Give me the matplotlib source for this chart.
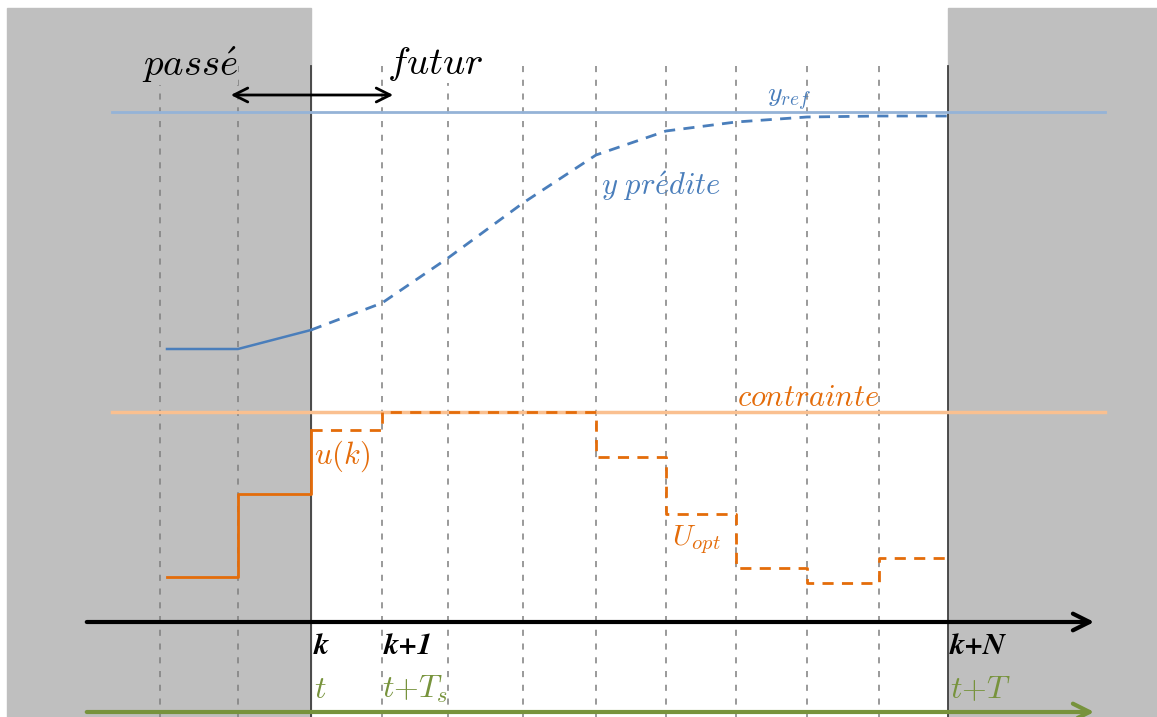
import matplotlib.pyplot as plt
from matplotlib.patches import Rectangle

plt.rcParams['mathtext.fontset'] = 'cm'

# time grid (pixel positions of the sampling instants k-2 ... k+N)
step_x = [160, 238, 311, 382, 448, 523, 596, 666, 736, 807, 879, 948]
k_idx = 2          # index of instant k
n_idx = 11         # index of instant k+N

# measured output (past) and predicted output (future)
y_past_x = [167, 238, 311]
y_past = [349, 349, 330]
y_pred = [330, 303, 258, 203, 155, 131, 122, 117, 116, 116]

# applied control (past) and optimal control sequence (future)
u_past_x = [167, 238, 311]
u_past = [577, 494, 430]
u_opt = [430, 412, 412, 412, 457, 514, 568, 583, 558]

y_ref = 112
u_max = 412

c_blue = '#4a7ebb'
c_blue_l = '#95b3d7'
c_orange = '#e46c0a'
c_orange_l = '#fac090'
c_green = '#77933c'
c_gray = '#bfbfbf'

fig = plt.figure(figsize=(11.57, 7.17), dpi=100)
ax = fig.add_axes([0, 0, 1, 1])
ax.set_xlim(0, 1157)
ax.set_ylim(717, 0)
ax.axis('off')

# shaded past / beyond horizon
ax.add_patch(Rectangle((7, 8), step_x[k_idx] - 7, 717, color=c_gray, zorder=0))
ax.add_patch(Rectangle((step_x[n_idx], 8), 1157 - step_x[n_idx], 717, color=c_gray, zorder=0))

# grid
for i, x in enumerate(step_x):
    if i in (k_idx, n_idx):
        ax.plot([x, x], [66, 717], color='#404040', lw=1.3, zorder=1)
    else:
        ax.plot([x, x], [66, 717], color='#7f7f7f', lw=1.1, ls=(0, (4, 5)), zorder=1)

# reference and constraint
ax.plot([112, 1105], [y_ref, y_ref], color=c_blue_l, lw=2, zorder=2)
ax.plot([112, 1105], [u_max, u_max], color=c_orange_l, lw=2.5, zorder=2)

# output
ax.plot(y_past_x, y_past, color=c_blue, lw=1.8, zorder=3)
ax.plot(step_x[k_idx:], y_pred, color=c_blue, lw=2, ls=(0, (4, 3)), zorder=3)

# control
ax.step(u_past_x, u_past, where='post', color=c_orange, lw=2, zorder=3)
ax.step(step_x[k_idx:], u_opt + [u_opt[-1]], where='post', color=c_orange, lw=2,
        ls=(0, (4, 3)), zorder=3)

# time axes
ax.annotate('', xy=(1097, 622), xytext=(84, 622),
            arrowprops=dict(arrowstyle='->', lw=3, color='black', mutation_scale=30), zorder=4)
ax.annotate('', xy=(1097, 712), xytext=(84, 712),
            arrowprops=dict(arrowstyle='->', lw=3, color=c_green, mutation_scale=30), zorder=4)
ax.annotate('', xy=(396, 95), xytext=(228, 95),
            arrowprops=dict(arrowstyle='<->', lw=2, color='black', mutation_scale=25), zorder=4)

# labels
ax.text(190, 76, r'$pass\acute{e}$', fontsize=28, ha='center', va='baseline', zorder=5,
        bbox=dict(facecolor=c_gray, edgecolor='none', pad=0))
ax.text(435, 74, r'$futur$', fontsize=28, ha='center', va='baseline', zorder=5,
        bbox=dict(facecolor='white', edgecolor='none', pad=0))
ax.text(789, 102, r'$y_{ref}$', fontsize=20, ha='center', va='baseline', color=c_blue, zorder=5)
ax.text(661, 195, r'$y\ pr\acute{e}dite$', fontsize=22, ha='center', va='baseline',
        color=c_blue, zorder=5)
ax.text(808, 406, r'$contrainte$', fontsize=22, ha='center', va='baseline',
        color=c_orange, zorder=5)
ax.text(342, 464, r'$u(k)$', fontsize=22, ha='center', va='baseline', color=c_orange, zorder=5)
ax.text(672, 545, r'$U_{opt}$', fontsize=21, ha='left', va='baseline', color=c_orange, zorder=5)

ax.text(313, 654, r'$\mathbfit{k}$', fontsize=22, ha='left', va='baseline', zorder=5)
ax.text(383, 654, r'$\mathbfit{k{+}1}$', fontsize=22, ha='left', va='baseline', zorder=5)
ax.text(949, 654, r'$\mathbfit{k{+}N}$', fontsize=22, ha='left', va='baseline', zorder=5)
ax.text(314, 698, r'$t$', fontsize=23, ha='left', va='baseline', color=c_green, zorder=5)
ax.text(382, 698, r'$t{+}T_s$', fontsize=23, ha='left', va='baseline', color=c_green, zorder=5)
ax.text(950, 698, r'$t{+}T$', fontsize=23, ha='left', va='baseline', color=c_green, zorder=5)

fig.savefig('out.png', dpi=100)
